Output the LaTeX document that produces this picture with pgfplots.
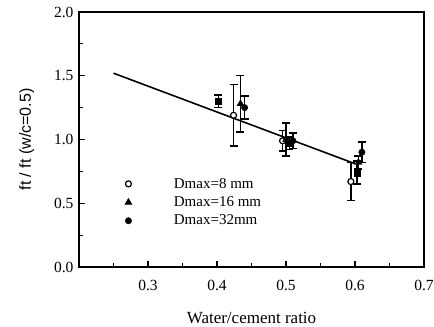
\documentclass[border=0pt]{standalone}
\usepackage{fontspec}
\setmainfont{Liberation Serif}
\newfontfamily\helv{Liberation Sans}
\usepackage{pgfplots}
\pgfplotsset{compat=1.18}
\begin{document}
\begin{tikzpicture}
\begin{axis}[
  scale only axis, width=345pt, height=255pt,
  xmin=0.2, xmax=0.7, ymin=0, ymax=2.0,
  axis line style={line width=1.5pt},
  xtick={0.3,0.4,0.5,0.6,0.7},
  minor xtick={0.25,0.35,0.45,0.55,0.65},
  ytick={0,0.5,1.0,1.5,2.0},
  minor ytick={0.25,0.75,1.25,1.75},
  tick pos=left, tick align=inside,
  major tick length=6pt, minor tick length=4pt,
  every tick/.style={line width=1.2pt, black},
  /pgf/number format/assume math mode=true,
  yticklabel style={/pgf/number format/.cd, fixed, fixed zerofill, precision=1},
  xticklabel style={/pgf/number format/.cd, fixed, fixed zerofill, precision=1},
  tick label style={font=\fontsize{15.5}{15.5}\selectfont},
  xticklabel shift=10pt,
  yticklabel shift=2pt,
  xlabel={Water/cement ratio},
  xlabel style={font=\fontsize{17}{17}\selectfont, yshift=-14pt},
  ylabel={\helv ft / ft (w/c=0.5)},
  ylabel style={font=\fontsize{16}{16}\selectfont, yshift=13pt},
  clip=false,
  legend style={draw=none, fill=none, at={(axis cs:0.262,0.73)}, anchor=north west,
    font=\fontsize{15}{15}\selectfont, cells={anchor=west}, row sep=3pt},
  legend image code/.code={\draw[#1] plot coordinates {(0pt,0pt)};},
  error bars/y dir=both, error bars/y explicit,
  error bars/error mark options={rotate=90, mark size=4pt, line width=1.5pt},
  error bars/error bar style={line width=1.5pt},
]
\addplot[black, line width=1.6pt, no marks, forget plot] coordinates {(0.25,1.52) (0.6,0.81)};
\addplot[only marks, mark=*, mark size=3pt, mark options={fill=white, line width=1.2pt}]
  coordinates {(0.424,1.19) +- (0,0.24) (0.495,0.99) +- (0,0.08) (0.594,0.67) +- (0,0.15)};
\addlegendentry{\hspace*{40pt}Dmax=8 mm}
\addplot[only marks, mark=triangle*, mark size=4pt, black]
  coordinates {(0.434,1.28) +- (0,0.22) (0.50,1.00) +- (0,0.13) (0.605,0.82) +- (0,0.05)};
\addlegendentry{\hspace*{40pt}Dmax=16 mm}
\addplot[only marks, mark=*, mark size=3.2pt, black]
  coordinates {(0.44,1.25) +- (0,0.09) (0.51,0.99) +- (0,0.06) (0.61,0.90) +- (0,0.08)};
\addlegendentry{\hspace*{40pt}Dmax=32mm}
\addplot[only marks, mark=square*, mark size=3.2pt, black, forget plot]
  coordinates {(0.402,1.30) +- (0,0.05) (0.505,0.97) +- (0,0.05) (0.603,0.74) +- (0,0.09)};
\end{axis}
\pgfresetboundingbox
\path ([shift={(-79pt,-59pt)}]current axis.south west) rectangle ([shift={(10pt,12pt)}]current axis.north east);
\end{tikzpicture}
\end{document}
